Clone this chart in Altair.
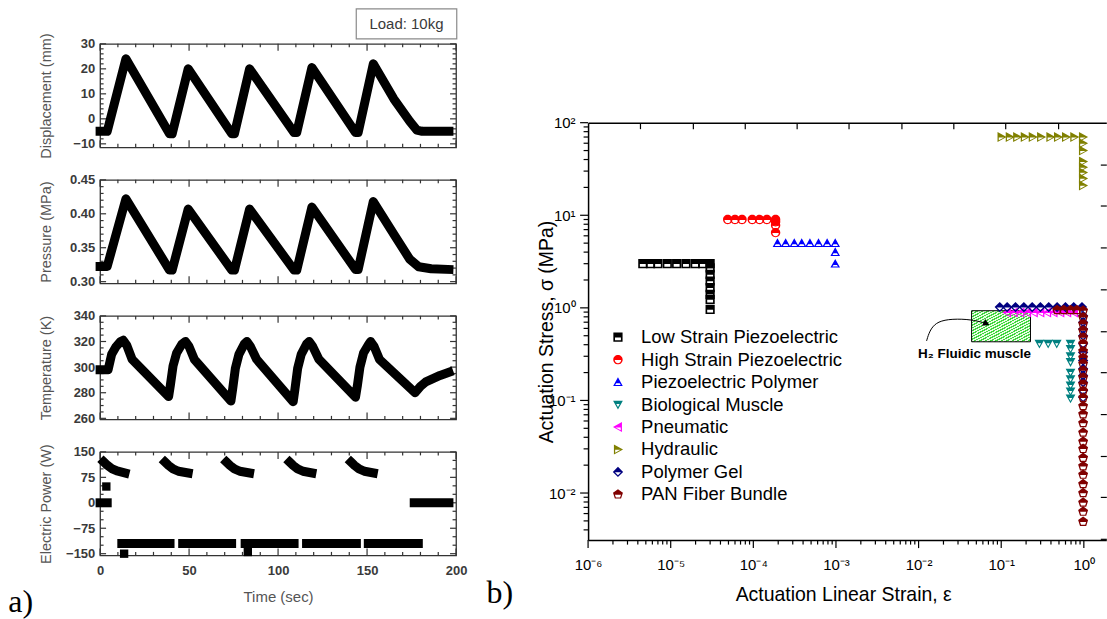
import math
import altair as alt
import pandas as pd

FONT = "Liberation Sans"
SERIF = "Liberation Serif"
FRAME = "#333333"
TXT = "#3a3a3a"

# ---------------- (a) time series ----------------
disp_t = [0, 4, 14.5, 39, 40.5, 49.5, 74, 75.5, 84, 109, 110.5, 119, 143.5, 145, 153.5, 165, 174, 178, 181, 196]
disp_v = [-5, -5, 24, -6, -6, 20, -6, -6, 20, -5.5, -5.5, 20.5, -5.5, -5.5, 22, 8, -1, -4.5, -5, -5]

pres_t = [0, 4, 14.5, 39, 40.5, 49.5, 74, 75.5, 84, 109, 110.5, 119, 143.5, 145, 153.5, 165, 174, 179, 186, 196]
pres_v = [0.3225, 0.3225, 0.422, 0.317, 0.317, 0.407, 0.317, 0.317, 0.407, 0.317, 0.317, 0.41,
          0.318, 0.318, 0.418, 0.37, 0.333, 0.322, 0.319, 0.318]

temp_t = [0, 4.5, 6.5, 9, 11.5, 13, 15, 18,
          38.5, 39.5, 41, 43, 46, 48, 50, 53,
          73.5, 74.5, 76, 78, 81, 82.5, 84.5, 88,
          108.5, 109.5, 111, 113, 116, 117.5, 119.5, 123,
          143.5, 144.5, 146, 148, 151, 152, 154, 157,
          177, 180, 183, 187, 191, 196]
temp_v = [298, 298, 310, 316, 320, 321, 317, 306,
          277, 286, 301, 311, 318, 320, 316, 306,
          273.5, 283, 299, 310, 318, 320, 316, 306,
          273, 283, 299, 310, 318, 320, 316, 306,
          276.5, 285, 300, 311, 318, 320, 316, 306,
          280, 285, 288.5, 291, 293.5, 296]

pow_seg = [0, 0,
           1, 1, 1, 1, 1, 2, 2,
           3, 3, 3, 3, 3, 4, 4,
           5, 5, 5, 5, 5, 6, 6,
           7, 7, 7, 7, 7, 8, 8,
           9, 9, 9, 9, 9, 10, 10,
           11, 11]
pow_t = [0, 4,
         2, 4, 6.5, 9.5, 14, 12.2, 39.3,
         36.5, 38.5, 41, 44, 49.5, 46.4, 73.9,
         71, 73, 75.5, 78.5, 84, 81.5, 109,
         106.5, 108.5, 111, 114, 119, 116, 144,
         141, 143, 145.5, 148.5, 153.5, 150.7, 178.8,
         176.5, 196]
pow_v = [0, 0,
         121, 111, 101, 94, 88, -120, -120,
         120, 110, 100, 93, 88, -120, -120,
         120, 110, 100, 93, 88, -120, -120,
         120, 110, 100, 93, 88, -120, -120,
         120, 110, 100, 93, 88, -120, -120,
         0, 0]
pow_pt_t = [3.5, 13.5, 83]
pow_pt_v = [48, -150, -145]

# tick labels / tick positions (a)
time_major = [0, 50, 100, 150, 200]
time_minor = [10, 20, 30, 40, 60, 70, 80, 90, 110, 120, 130, 140, 160, 170, 180, 190]
disp_major = [-10, 0, 10, 20, 30]
disp_minor = [-8, -6, -4, -2, 2, 4, 6, 8, 12, 14, 16, 18, 22, 24, 26, 28]
pres_major = [0.30, 0.35, 0.40, 0.45]
pres_minor = [0.31, 0.32, 0.33, 0.34, 0.36, 0.37, 0.38, 0.39, 0.41, 0.42, 0.43, 0.44]
temp_major = [260, 280, 300, 320, 340]
temp_minor = [265, 270, 275, 285, 290, 295, 305, 310, 315, 325, 330, 335]
pow_major = [-150, -75, 0, 75, 150]
pow_minor = [-125, -100, -50, -25, 25, 50, 100, 125]

# ---------------- (b) actuator map ----------------
series_names = ["Low Strain Piezoelectric", "High Strain Piezoelectric", "Piezoelectric Polymer",
                "Biological Muscle", "Pneumatic", "Hydraulic", "Polymer Gel", "PAN Fiber Bundle"]
series_colors = ["#000000", "#ff0000", "#0000ff", "#008080", "#ff00ff", "#808000", "#000080", "#800000"]
series_sizes = [85, 110, 140, 140, 130, 135, 120, 115]

lsp_x = [4.6e-6, 5.7e-6, 7.0e-6, 9.1e-6, 1.18e-5, 1.53e-5, 1.98e-5, 2.44e-5, 3.0e-5,
         3.0e-5, 3.0e-5, 3.0e-5, 3.0e-5, 3.0e-5, 3.0e-5, 3.0e-5]
lsp_y = [3.0, 3.0, 3.0, 3.0, 3.0, 3.0, 3.0, 3.0, 3.0, 2.7, 2.3, 1.95, 1.65, 1.4, 1.23, 0.96]
hsp_x = [4.9e-5, 6.0e-5, 7.3e-5, 9.7e-5, 1.19e-4, 1.46e-4, 1.86e-4, 1.86e-4, 1.86e-4, 1.86e-4]
hsp_y = [9.0, 9.0, 9.0, 9.0, 9.0, 9.0, 9.0, 8.5, 7.8, 6.5]
pp_x = [1.96e-4, 2.46e-4, 3.13e-4, 3.85e-4, 4.84e-4, 6.15e-4, 7.82e-4, 9.8e-4, 9.8e-4, 9.8e-4]
pp_y = [5.0, 5.0, 5.0, 5.0, 5.0, 5.0, 5.0, 5.0, 4.0, 3.0]
bm_x = [0.29, 0.37, 0.47, 0.69, 0.69, 0.69, 0.69, 0.69, 0.69, 0.69, 0.69, 0.69]
bm_y = [0.41, 0.41, 0.41, 0.41, 0.36, 0.30, 0.26, 0.20, 0.17, 0.145, 0.125, 0.105]
pn_x = [0.118, 0.142, 0.171, 0.206, 0.248, 0.298, 0.36, 0.43, 0.52, 0.63, 0.76]
pn_y = [0.89, 0.89, 0.89, 0.89, 0.89, 0.89, 0.89, 0.89, 0.89, 0.89, 0.89]
hy_x = [0.101, 0.127, 0.156, 0.193, 0.241, 0.304, 0.394, 0.487, 0.609, 0.767, 0.977,
        0.977, 0.977, 0.977, 0.977, 0.977, 0.977, 0.977]
hy_y = [70, 70, 70, 70, 70, 70, 70, 70, 70, 70, 70, 60, 50, 38, 33, 29, 25, 21]
pg_x = [0.096, 0.118, 0.149, 0.188, 0.237, 0.298, 0.376, 0.475, 0.599, 0.754, 0.95,
        0.98, 0.98, 0.98, 0.98, 0.98, 0.98, 0.98, 0.98, 0.98, 0.98, 0.98, 0.98]
pg_y = [1.02, 1.02, 1.02, 1.02, 1.02, 1.02, 1.02, 1.02, 1.02, 1.02, 1.02,
        0.82, 0.70, 0.59, 0.50, 0.41, 0.33, 0.27, 0.22, 0.186, 0.157, 0.128, 0.108]
pan_x = [0.475, 0.57, 0.69, 0.82] + [0.98] * 28
pan_y = [0.95, 0.95, 0.95, 0.95,
         0.935, 0.79, 0.67, 0.57, 0.48, 0.41, 0.34, 0.29, 0.25, 0.21, 0.177, 0.15, 0.127, 0.107,
         0.087, 0.071, 0.057, 0.045, 0.036, 0.030, 0.024, 0.0195, 0.0158, 0.0125, 0.010, 0.0079,
         0.0063, 0.0049]

h2_box_x = [0.0438]
h2_box_x2 = [0.226]
h2_box_y = [0.43]
h2_box_y2 = [0.931]
h2_label_x = [0.0476]
h2_label_y = [0.318]
arrow_x = [0.0125, 0.0136, 0.0161, 0.0223, 0.0388, 0.056, 0.0646]
arrow_y = [0.44, 0.566, 0.69, 0.757, 0.757, 0.708, 0.683]

strain_major = [1e-6, 1e-5, 1e-4, 1e-3, 1e-2, 1e-1, 1.0]
strain_labels = ["10⁻⁶", "10⁻⁵", "10⁻⁴", "10⁻³", "10⁻²", "10⁻¹", "10⁰"]
stress_major = [1e-2, 1e-1, 1.0, 10.0, 100.0]
stress_labels = ["10⁻²", "10⁻¹", "10⁰", "10¹", "10²"]
strain_minor = [float(f"{k}e{e}") for e in range(-6, 0) for k in range(2, 10)]
stress_minor = [float(f"{k}e{e}") for e in range(-3, 2) for k in range(2, 10) if k * 10.0 ** e > 0.0031]

# ---------------- helpers ----------------
W_A, H_A = 356.7, 103.7
W_B, H_B = 519.3, 418.3

# unit-length stroke paths used as tick glyphs (direction of the tick)
TICK_DOWN = "M0,0L0,1"
TICK_UP = "M0,0L0,-1"
TICK_RIGHT = "M0,0L1,0"
TICK_LEFT = "M0,0L-1,0"


def tick_layer(values, field, enc_obj, fixed, path, length, color=FRAME, width=1.2):
    d = pd.DataFrame({field: values})
    return alt.Chart(d).mark_point(shape=path, size=(2 * length) ** 2, filled=False, stroke=color,
                                   strokeWidth=width, opacity=1).encode(**enc_obj, **fixed)


def a_panel(df, ydom, ymajor, yminor, yfmt, ytitle, bottom=False, detail=False, extras=()):
    xs = alt.Scale(domain=[0, 200], nice=False, zero=False)
    ys = alt.Scale(domain=ydom, nice=False, zero=False)
    if bottom:
        xax = alt.Axis(orient="bottom", values=time_major, ticks=False, domain=False, grid=False,
                       labelFlush=False, labelOverlap=False, format="d", labelFont=FONT,
                       labelFontSize=13, labelFontWeight="bold", labelColor=TXT, labelPadding=9.5,
                       title="Time (sec)", titleFont=FONT, titleFontWeight="normal",
                       titleColor="#555555", titleFontSize=15, titleBaseline="middle",
                       titleAlign="center", titleX=W_A / 2, titleY=41.7)
        X = alt.X("t:Q", scale=xs, axis=xax)
    else:
        X = alt.X("t:Q", scale=xs, axis=None)
    yax = alt.Axis(orient="left", values=ymajor, ticks=False, domain=False, grid=False,
                   labelFlush=False, labelOverlap=False, format=yfmt, labelFont=FONT,
                   labelFontSize=13, labelFontWeight="bold", labelColor=TXT, labelPadding=5.3,
                   title=ytitle, titleFont=FONT, titleFontWeight="normal", titleColor="#555555",
                   titleFontSize=14.5, titleBaseline="middle", titleAlign="center", titleAngle=270,
                   titleX=-54, titleY=H_A / 2)
    Y = alt.Y("v:Q", scale=ys, axis=yax)

    layers = []
    for vals, L in ((ymajor, 6), (yminor, 3.5)):
        layers.append(tick_layer(vals, "v", {"y": Y}, {"x": alt.value(0)}, TICK_RIGHT, L))
        layers.append(tick_layer(vals, "v", {"y": Y}, {"x": alt.value(W_A)}, TICK_LEFT, L))
    for vals, L in ((time_major, 7), (time_minor, 3.5)):
        layers.append(tick_layer(vals, "t", {"x": X}, {"y": alt.value(0)}, TICK_DOWN, L))
        layers.append(tick_layer(vals, "t", {"x": X}, {"y": alt.value(H_A)}, TICK_UP, L))

    enc = dict(x=X, y=Y)
    if detail:
        enc["detail"] = "seg:N"
    line = alt.Chart(df).mark_line(color="black", strokeWidth=9, strokeCap="square",
                                   strokeJoin="round").encode(**enc)
    layers.append(line)
    for ex in extras:
        layers.append(ex(X, Y))
    return alt.layer(*layers).properties(
        width=W_A, height=H_A, view=alt.ViewBackground(stroke=FRAME, strokeWidth=1.3))


one = pd.DataFrame({"k": [0]})


def load_box(X, Y):
    return alt.Chart(one).mark_rect(fill="white", stroke="#8a8a8a", strokeWidth=1.2).encode(
        x=alt.value(256.7), x2=alt.value(357.4), y=alt.value(-35), y2=alt.value(-5))


def load_text(X, Y):
    return alt.Chart(one).mark_text(text="Load: 10kg", font=FONT, fontSize=15, color="#3a3a3a",
                                    align="center", baseline="middle").encode(
        x=alt.value(307), y=alt.value(-19.5))


def a_text(X, Y):
    return alt.Chart(one).mark_text(text="a)", font=SERIF, fontSize=32, color="black",
                                    align="left", baseline="alphabetic").encode(
        x=alt.value(-92), y=alt.value(160))


df_pow_pt = pd.DataFrame({"t": pow_pt_t, "v": pow_pt_v})


def pow_sq(X, Y):
    return alt.Chart(df_pow_pt).mark_square(color="black", size=70, opacity=1).encode(x=X, y=Y)


df_disp = pd.DataFrame({"t": disp_t, "v": disp_v})
df_pres = pd.DataFrame({"t": pres_t, "v": pres_v})
df_temp = pd.DataFrame({"t": temp_t, "v": temp_v})
df_pow = pd.DataFrame({"t": pow_t, "v": pow_v, "seg": pow_seg})

p1 = a_panel(df_disp, [-11.4, 30], disp_major, disp_minor, "d", "Displacement (mm)",
             extras=(load_box, load_text))
p2 = a_panel(df_pres, [0.2975, 0.45], pres_major, pres_minor, ".2f", "Pressure (MPa)")
p3 = a_panel(df_temp, [259.2, 340], temp_major, temp_minor, "d", "Temperature (K)")
p4 = a_panel(df_pow, [-155, 150], pow_major, pow_minor, "d", "Electric Power (W)",
             bottom=True, detail=True, extras=(pow_sq, a_text))

left = alt.vconcat(p1, p2, p3, p4, spacing=32.3, bounds="flush")

# ---------------- (b) ----------------
# half-filled marker shapes: filled outline with a hole in the lower part
shape_paths = [
    "M-1,-1L1,-1L1,1L-1,1Z M-0.64,0.06L-0.64,0.64L0.64,0.64L0.64,0.06Z",
    "M-1,0A1,1 0 1,1 1,0A1,1 0 1,1 -1,0Z M-0.68,0.08A0.68,0.68 0 0,0 0.68,0.08Z",
    "M0,-1L1,0.8L-1,0.8Z M-0.36,0.25L-0.58,0.6L0.58,0.6L0.36,0.25Z",
    "M-1,-0.8L1,-0.8L0,1Z M-0.34,-0.1L0,0.52L0.34,-0.1Z",
    "M-1,0L0.8,-1L0.8,1Z M-0.5,0.08L0.55,0.65L0.55,0.08Z",
    "M1,0L-0.8,1L-0.8,-1Z M0.5,0.08L-0.55,0.08L-0.55,0.65Z",
    "M0,-1L1,0L0,1L-1,0Z M-0.58,0.08L0,0.64L0.58,0.08Z",
    "M0,-1L0.95,-0.31L0.59,0.81L-0.59,0.81L-0.95,-0.31Z M-0.58,0.05L-0.4,0.58L0.4,0.58L0.58,0.05Z",
]

xs_list = [lsp_x, hsp_x, pp_x, bm_x, pn_x, hy_x, pg_x, pan_x]
ys_list = [lsp_y, hsp_y, pp_y, bm_y, pn_y, hy_y, pg_y, pan_y]
rows = []
for name, xs_, ys_ in zip(series_names, xs_list, ys_list):
    for a, b in zip(xs_, ys_):
        rows.append({"x": a, "y": b, "series": name})
df_b = pd.DataFrame(rows)
df_b["idx"] = range(len(df_b))


def log_expr(majors, labels):
    arr = "[" + ",".join(f"'{s}'" for s in labels) + "]"
    first = round(math.log10(majors[0]))
    return f"{arr}[round(log(datum.value)/LN10) - ({first})]"


bx_scale = alt.Scale(type="log", domain=[1e-6, 1.87], nice=False)
by_scale = alt.Scale(type="log", domain=[0.0031, 100], nice=False)

bx_axis = alt.Axis(orient="bottom", values=strain_major, labelExpr=log_expr(strain_major, strain_labels),
                   ticks=False, domainColor="black", domainWidth=1.5,
                   grid=False, labelOverlap=False, labelFlush=False, labelFont=FONT, labelFontSize=15,
                   labelColor="black", labelPadding=17,
                   title="Actuation Linear Strain, ε", titleFont=FONT, titleFontSize=19.5,
                   titleFontWeight="normal", titleColor="black", titleBaseline="middle",
                   titleAlign="center", titleX=W_B / 2 - 4, titleY=55)
by_axis = alt.Axis(orient="left", values=stress_major, labelExpr=log_expr(stress_major, stress_labels),
                   ticks=False, domainColor="black", domainWidth=1.5,
                   grid=False, labelOverlap=False, labelFlush=False, labelFont=FONT, labelFontSize=15,
                   labelColor="black", labelPadding=13,
                   title="Actuation Stress, σ (MPa)", titleFont=FONT, titleFontSize=19.5,
                   titleFontWeight="normal", titleColor="black", titleBaseline="middle",
                   titleAlign="center", titleAngle=270, titleX=-42, titleY=209.3)

legend = alt.Legend(orient="none", legendX=509.7, legendY=284.7, title=None, labelFont=FONT,
                    labelFontSize=18.5, labelColor="black", labelOffset=13.9, rowPadding=3.5,
                    symbolSize=100, symbolStrokeWidth=0, symbolOpacity=1, padding=0, labelLimit=400)

X = alt.X("x:Q", scale=bx_scale, axis=bx_axis)
Y = alt.Y("y:Q", scale=by_scale, axis=by_axis)

b_layers = []
for vals, L in ((strain_major, 8), (strain_minor, 4.5)):
    b_layers.append(tick_layer(vals, "x", {"x": X}, {"y": alt.value(H_B)}, TICK_DOWN, L,
                               color="black"))
for vals, L in ((stress_major, 8), (stress_minor, 4.5)):
    b_layers.append(tick_layer(vals, "y", {"y": Y}, {"x": alt.value(0)}, TICK_LEFT, L,
                               color="black"))

GREEN = "#3cd83c"
PALE = "#eafbe6"
stops = []
N_STRIPES = 22
for i in range(N_STRIPES):
    a0, a1, a2 = i / N_STRIPES, (i + 0.45) / N_STRIPES, (i + 1) / N_STRIPES
    stops += [alt.GradientStop(color=GREEN, offset=a0), alt.GradientStop(color=GREEN, offset=a1),
              alt.GradientStop(color=PALE, offset=a1), alt.GradientStop(color=PALE, offset=a2)]
hatch = alt.LinearGradient(gradient="linear", stops=stops, x1=0, y1=0, x2=1, y2=1)

df_box = pd.DataFrame({"x": h2_box_x, "x2": h2_box_x2, "y": h2_box_y, "y2": h2_box_y2})
b_layers.append(alt.Chart(df_box).mark_rect(fill=hatch, stroke="black", strokeWidth=1).encode(
    x=X, x2="x2:Q", y=Y, y2="y2:Q"))

b_layers.append(alt.Chart(df_b).mark_point(filled=True, opacity=1, strokeWidth=0).encode(
    x=X, y=Y,
    color=alt.Color("series:N", scale=alt.Scale(domain=series_names, range=series_colors),
                    legend=legend),
    shape=alt.Shape("series:N", scale=alt.Scale(domain=series_names, range=shape_paths),
                    legend=legend),
    size=alt.Size("series:N", scale=alt.Scale(domain=series_names, range=series_sizes), legend=None),
    order=alt.Order("idx:Q"),
))

df_arrow = pd.DataFrame({"x": arrow_x, "y": arrow_y, "i": list(range(len(arrow_x)))})
b_layers.append(alt.Chart(df_arrow).mark_line(color="black", strokeWidth=1, interpolate="basis").encode(
    x=X, y=Y, order="i:Q"))
df_head = pd.DataFrame({"x": arrow_x[-1:], "y": arrow_y[-1:]})
b_layers.append(alt.Chart(df_head).mark_point(shape="triangle", angle=115, filled=True, size=55,
                                              color="black", opacity=1).encode(x=X, y=Y))
df_h2 = pd.DataFrame({"x": h2_label_x, "y": h2_label_y})
b_layers.append(alt.Chart(df_h2).mark_text(text="H₂ Fluidic muscle", font=FONT, fontSize=13.5,
                                           fontWeight="bold", color="black", align="center",
                                           baseline="middle").encode(x=X, y=Y))
b_layers.append(alt.Chart(one).mark_text(text="b)", font=SERIF, fontSize=32, color="black",
                                         align="left", baseline="alphabetic").encode(
    x=alt.value(-101.7), y=alt.value(481.3)))

b_inner = alt.layer(*b_layers)

ghost_df = pd.DataFrame({"gx": [0.0], "gy": [0.0]})
b_ghost = alt.Chart(ghost_df).mark_point(opacity=0).encode(
    x=alt.X("gx:Q", scale=alt.Scale(domain=[0, 9.93], nice=False, zero=False),
            axis=alt.Axis(orient="top", values=list(range(1, 10)), labels=False,
                          tickSize=alt.ExprRef(expr="-6"), tickColor="black", tickWidth=1.2,
                          domainColor="black", domainWidth=1.5, grid=False, title=None)),
    y=alt.Y("gy:Q", scale=alt.Scale(domain=[0, 10.03], reverse=True, nice=False, zero=False),
            axis=alt.Axis(orient="right", values=list(range(1, 11)), labels=False,
                          tickSize=alt.ExprRef(expr="-6"), tickColor="black", tickWidth=1.2,
                          domain=False, grid=False, title=None)))

b_chart = alt.layer(b_inner, b_ghost).resolve_scale(x="independent", y="independent").properties(
    width=W_B, height=H_B)

spacer = alt.Chart(one).mark_point(opacity=0).encode(
    x=alt.X("k:Q", axis=None), y=alt.Y("k:Q", axis=None)).properties(width=W_B, height=78.5)

right = alt.vconcat(spacer, b_chart, spacing=0, bounds="flush")

chart = alt.hconcat(left, right, spacing=18).properties(
    padding={"left": 7.3, "top": 6.3, "right": 0, "bottom": 0}
).configure(font=FONT).configure_view(stroke=None)

chart.save("out.html", embed_options={"renderer": "svg", "actions": False})
